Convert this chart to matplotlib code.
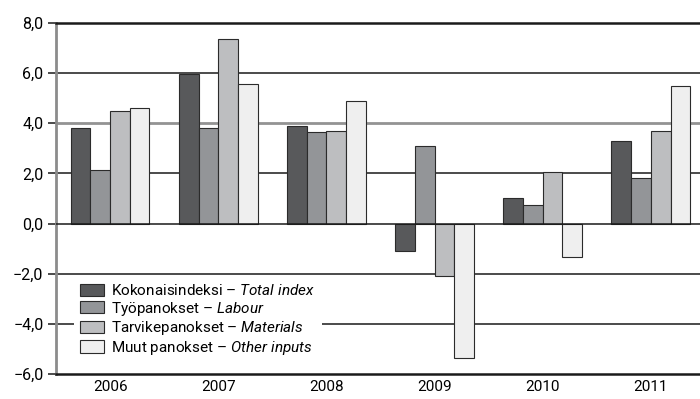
import matplotlib
matplotlib.use('Agg')
import matplotlib.pyplot as plt
import numpy as np

# vuosimuutokset, %
vuodet = ['2006', '2007', '2008', '2009', '2010', '2011']
kokonais = [3.8, 5.95, 3.9, -1.1, 1.0, 3.3]
tyo = [2.15, 3.8, 3.65, 3.1, 0.75, 1.8]
tarvike = [4.5, 7.35, 3.7, -2.1, 2.05, 3.7]
muut = [4.6, 5.55, 4.9, -5.35, -1.35, 5.5]

nimet = ['Kokonaisindeksi', 'Työpanokset', 'Tarvikepanokset', 'Muut panokset']
nimet_en = ['Total index', 'Labour', 'Materials', 'Other inputs']
varit = ['#58595b', '#939598', '#bdbec0', '#efefef']
yticks = [-6, -4, -2, 0, 2, 4, 6, 8]

fontti = 'Roboto'
plt.rcParams['font.family'] = [fontti, 'DejaVu Sans']
plt.rcParams['mathtext.fontset'] = 'custom'
plt.rcParams['mathtext.rm'] = fontti
plt.rcParams['mathtext.it'] = fontti + ':italic'

fig = plt.figure(figsize=(7, 3.99), dpi=100)
ax = fig.add_axes([0.08, 0.0627, 0.927, 0.8797])

x = np.arange(len(vuodet))
w = 0.182
sarjat = [kokonais, tyo, tarvike, muut]
palkit = []
for i, s in enumerate(sarjat):
    b = ax.bar(x + (i - 1.5) * w, s, w, color=varit[i], edgecolor='#2b2b2b',
               linewidth=0.8, zorder=3)
    palkit.append(b)

# vaakaviivat
for y in yticks:
    if y in (8, -6):
        continue
    if y == 4:
        ax.axhline(y, color='#939393', lw=2, zorder=1)
    else:
        ax.axhline(y, color='#1a1a1a', lw=1.1, zorder=1 if y != 0 else 4)

ax.set_xlim(-0.5, 5.5)
ax.set_ylim(-6, 8)
ax.set_yticks(yticks)
ax.set_yticklabels([('%.1f' % v).replace('.', ',').replace('-', '\u2212') for v in yticks])
ax.set_xticks(x)
ax.set_xticklabels(vuodet)
ax.tick_params(axis='x', length=0, pad=4, labelsize=11)
ax.tick_params(axis='y', length=6, width=1.1, color='#1a1a1a', pad=3, labelsize=11.5)

ax.spines['right'].set_visible(False)
ax.spines['left'].set_color('#8c8c8c')
ax.spines['left'].set_linewidth(2)
ax.spines['top'].set_color('#1a1a1a')
ax.spines['top'].set_linewidth(1.8)
ax.spines['bottom'].set_color('#1a1a1a')
ax.spines['bottom'].set_linewidth(1.8)

labels = [n + ' \u2013 $\\it{' + e.replace(' ', '\\ ') + '}$' for n, e in zip(nimet, nimet_en)]
leg = ax.legend(palkit, labels, loc='lower left', bbox_to_anchor=(0.016, 0.01),
                frameon=True, fancybox=False, framealpha=1, edgecolor='none',
                facecolor='white', fontsize=11, handlelength=1.55, handleheight=0.85,
                handletextpad=0.5, labelspacing=0.1, borderpad=0.4)
leg.set_zorder(5)

fig.savefig('out.png', dpi=100)
